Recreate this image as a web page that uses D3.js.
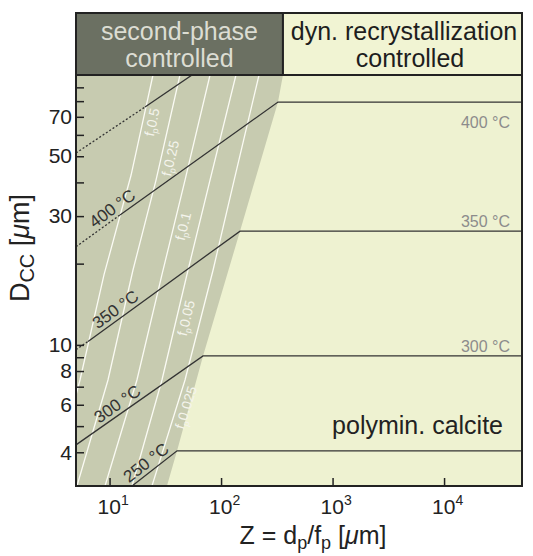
<!DOCTYPE html>
<html>
<head>
<meta charset="utf-8">
<script src="https://cdn.jsdelivr.net/npm/d3@7"></script>
<style>
  body { margin: 0; background: #fff; }
  svg { display: block; font-family: "Liberation Sans", Arial, sans-serif; }
</style>
</head>
<body>
<svg id="chart" width="533" height="556"></svg>
<script>
/* globals d3 */

// iso-lines of second-phase fraction fp (Z and Dcc in µm), top to bottom
var fpLabels = ['0.5', '0.25', '0.1', '0.05', '0.025']
var fpZ = [
  [24.5, 15.6, 8.92, 5.43, 5.0],
  [42.8, 26.1, 16.2, 9.68, 5.1],
  [79.6, 47.5, 29.5, 17.6, 9.1],
  [136, 79.6, 50.5, 29.5, 15.9],
  [219, 131, 84.7, 47.5, 24.0]
]
var fpD = [
  [100, 42.6, 18.2, 7.41, 6.52],
  [100, 40.8, 18.9, 7.41, 3],
  [100, 40.8, 18.2, 7.41, 3],
  [100, 40.8, 18.9, 7.41, 3],
  [100, 40.8, 18.9, 7.41, 3]
]
var fpLabelD = [68, 50, 28, 12.8, 6]

// boundary between second-phase and dyn. recrystallization control
var edgeZ = [359, 324, 148, 68.9, 40.3, 32.7]
var edgeD = [100, 79.4, 26.4, 9.1, 4.05, 3]

// temperature curves
var tempLabels = ['', '400 °C', '350 °C', '300 °C', '250 °C']
var tempZ = [
  [5, 20.8, 54.9],
  [5, 12.4, 324, 50000],
  [5, 6.41, 148, 50000],
  [5, 68.9, 50000],
  [15.9, 40.3, 50000]
]
var tempD = [
  [51.4, 76.1, 100],
  [23.1, 30.3, 79.4, 79.4],
  [9.6, 10.3, 26.4, 26.4],
  [4.26, 9.1, 9.1],
  [3, 4.05, 4.05]
]
var tempDotted = [1, 1, 1, 0, 0]
var tempLabelZ = [0, 11.9, 12.7, 13.2, 24.0]

var plateauLabels = ['400 °C', '350 °C', '300 °C']
var plateauD = [79.4, 26.4, 9.1]

var yTicks = [4, 5, 6, 7, 8, 9, 10, 20, 30, 40, 50, 60, 70, 80, 90]
var yLabels = [4, 6, 8, 10, 30, 50, 70]
var xTicks = [10, 100, 1000, 10000]

var pLeft = 76, pRight = 522, pTop = 75, pBottom = 486, headTop = 13

var x = d3.scaleLog().domain([5, 50000]).range([pLeft, pRight])
var y = d3.scaleLog().domain([3, 100]).range([pBottom, pTop])

var svg = d3.select('#chart')

svg.append('clipPath').attr('id', 'plot')
  .append('rect')
  .attr('x', pLeft).attr('y', pTop)
  .attr('width', pRight - pLeft).attr('height', pBottom - pTop)

// backgrounds
svg.append('rect')
  .attr('x', pLeft).attr('y', pTop)
  .attr('width', pRight - pLeft).attr('height', pBottom - pTop)
  .attr('fill', '#eef2d1')

var line = d3.line().x(function (d) { return x(d[0]) }).y(function (d) { return y(d[1]) })

var edgePts = [[5, 100]].concat(edgeZ.map(function (z, i) { return [z, edgeD[i]] })).concat([[5, 3]])
svg.append('path')
  .attr('clip-path', 'url(#plot)')
  .attr('d', line(edgePts) + 'Z')
  .attr('fill', '#c7cbb0')

var plot = svg.append('g').attr('clip-path', 'url(#plot)')

// fp lines
fpZ.forEach(function (zs, i) {
  var pts = zs.map(function (z, j) { return [z, fpD[i][j]] })
  plot.append('path')
    .attr('d', line(pts))
    .attr('fill', 'none')
    .attr('stroke', '#fbfbf4')
    .attr('stroke-width', 1.3)
})

// temperature lines
tempZ.forEach(function (zs, i) {
  var pts = zs.map(function (z, j) { return [z, tempD[i][j]] })
  var n = tempDotted[i]
  if (n > 0) {
    plot.append('path')
      .attr('d', line(pts.slice(0, n + 1)))
      .attr('fill', 'none')
      .attr('stroke', '#333')
      .attr('stroke-width', 1.3)
      .attr('stroke-dasharray', '2,2')
  }
  plot.append('path')
    .attr('d', line(pts.slice(n)))
    .attr('fill', 'none')
    .attr('stroke', '#333')
    .attr('stroke-width', 1.3)
})

// labels along sloped temperature lines
tempLabels.forEach(function (lab, i) {
  if (!lab) return
  var zs = tempZ[i], ds = tempD[i], z = tempLabelZ[i]
  var k = 0
  while (k < zs.length - 2 && zs[k + 1] < z) k++
  var x0 = x(zs[k]), x1 = x(zs[k + 1]), y0 = y(ds[k]), y1 = y(ds[k + 1])
  var px = x(z), py = y0 + (px - x0) / (x1 - x0) * (y1 - y0)
  var ang = Math.atan2(y1 - y0, x1 - x0) * 180 / Math.PI
  svg.append('text')
    .attr('transform', 'translate(' + px + ',' + py + ') rotate(' + ang + ')')
    .attr('dy', -4)
    .attr('text-anchor', 'middle')
    .attr('font-size', 17)
    .attr('fill', '#333')
    .text(lab)
})

// fp labels
fpLabels.forEach(function (lab, i) {
  var zs = fpZ[i], ds = fpD[i], d = fpLabelD[i]
  var k = 0
  while (k < ds.length - 2 && ds[k + 1] > d) k++
  var x0 = x(zs[k]), x1 = x(zs[k + 1]), y0 = y(ds[k]), y1 = y(ds[k + 1])
  var py = y(d), px = x0 + (py - y0) / (y1 - y0) * (x1 - x0)
  var ang = Math.atan2(y0 - y1, x0 - x1) * 180 / Math.PI
  var t = svg.append('text')
    .attr('transform', 'translate(' + px + ',' + py + ') rotate(' + ang + ')')
    .attr('y', 14)
    .attr('text-anchor', 'middle')
    .attr('font-size', 14)
    .attr('fill', '#f4f4ec')
  t.append('tspan').text('f')
  t.append('tspan').attr('font-size', 9).attr('dy', 3).text('p')
  t.append('tspan').attr('dy', -3).text(lab)
})

// plateau labels
plateauLabels.forEach(function (lab, i) {
  svg.append('text')
    .attr('x', 510)
    .attr('y', y(plateauD[i]) + (i === 0 ? 26 : -4))
    .attr('text-anchor', 'end')
    .attr('font-size', 16)
    .attr('fill', '#8c8c8c')
    .text(lab)
})

svg.append('text')
  .attr('x', 503).attr('y', 434)
  .attr('text-anchor', 'end')
  .attr('font-size', 25)
  .attr('fill', '#222')
  .text('polymin. calcite')

// axes (inward ticks)
var yAxis = svg.append('g')
  .attr('transform', 'translate(' + pLeft + ',0)')
  .call(d3.axisLeft(y).tickValues(yTicks).tickSizeInner(-8).tickSizeOuter(0).tickPadding(4)
    .tickFormat(function (d) { return yLabels.indexOf(d) >= 0 ? d : '' }))
yAxis.select('.domain').remove()
yAxis.selectAll('line').attr('stroke', '#222').attr('stroke-width', 1.5)
yAxis.selectAll('text').attr('font-size', 21).attr('fill', '#222')
  .attr('font-family', '"Liberation Sans", Arial, sans-serif')

var xAxis = svg.append('g')
  .attr('transform', 'translate(0,' + pBottom + ')')
  .call(d3.axisBottom(x).tickValues(xTicks).tickSizeInner(-8).tickSizeOuter(0).tickFormat(''))
xAxis.select('.domain').remove()
xAxis.selectAll('line').attr('stroke', '#222').attr('stroke-width', 1.5)

xTicks.forEach(function (d) {
  var t = svg.append('text')
    .attr('x', x(d) - 12).attr('y', 514)
    .attr('font-size', 21).attr('fill', '#222')
  t.append('tspan').text('10')
  t.append('tspan').attr('font-size', 14).attr('dy', -9).text(Math.round(Math.log10(d)))
})

// frame
svg.append('rect')
  .attr('x', pLeft).attr('y', pTop)
  .attr('width', pRight - pLeft).attr('height', pBottom - pTop)
  .attr('fill', 'none').attr('stroke', '#222').attr('stroke-width', 2)

// header boxes
var split = x(edgeZ[0])
svg.append('rect')
  .attr('x', pLeft).attr('y', headTop)
  .attr('width', split - pLeft).attr('height', pTop - headTop)
  .attr('fill', '#6b7062').attr('stroke', '#222').attr('stroke-width', 2)
svg.append('rect')
  .attr('x', split).attr('y', headTop)
  .attr('width', pRight - split).attr('height', pTop - headTop)
  .attr('fill', '#f1f4d3').attr('stroke', '#222').attr('stroke-width', 2)

var headLeft = ['second-phase', 'controlled']
var headRight = ['dyn. recrystallization', 'controlled']
headLeft.forEach(function (s, i) {
  svg.append('text').attr('text-anchor', 'middle').attr('font-size', 25).attr('fill', '#dcddd3')
    .attr('x', (pLeft + split) / 2).attr('y', 39.5 + i * 27.5).text(s)
})
headRight.forEach(function (s, i) {
  svg.append('text').attr('text-anchor', 'middle').attr('font-size', 25).attr('fill', '#1e1e1e')
    .attr('x', i ? 410 : 404).attr('y', 39.5 + i * 27.5).text(s)
})

// axis titles
var xt = svg.append('text').attr('x', 313).attr('y', 544).attr('text-anchor', 'middle')
  .attr('font-size', 25).attr('fill', '#222')
xt.append('tspan').text('Z = d')
xt.append('tspan').attr('font-size', 18).attr('dy', 5).text('p')
xt.append('tspan').attr('dy', -5).text('/f')
xt.append('tspan').attr('font-size', 18).attr('dy', 5).text('p')
xt.append('tspan').attr('dy', -5).text(' [')
xt.append('tspan').attr('font-style', 'italic').text('μ')
xt.append('tspan').text('m]')

var yt = svg.append('text').attr('transform', 'translate(29,248) rotate(-90)').attr('text-anchor', 'middle')
  .attr('font-size', 27).attr('fill', '#222')
yt.append('tspan').text('D')
yt.append('tspan').attr('font-size', 20).attr('dy', 5).text('CC')
yt.append('tspan').attr('dy', -5).text(' [')
yt.append('tspan').attr('font-style', 'italic').text('μ')
yt.append('tspan').text('m]')
</script>
</body>
</html>
